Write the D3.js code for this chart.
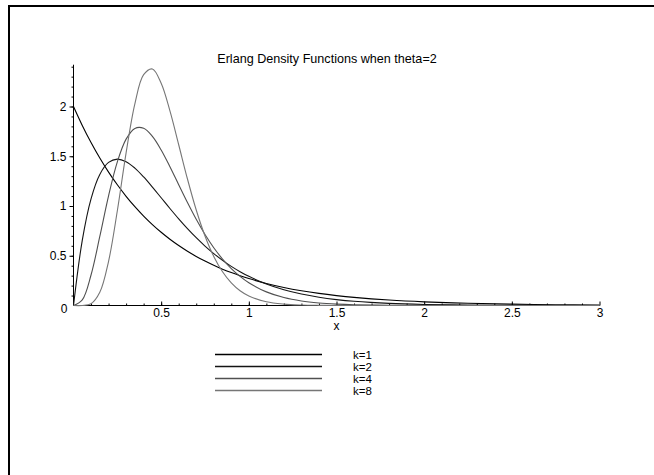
<!DOCTYPE html>
<html><head><meta charset="utf-8">
<script src="https://cdn.jsdelivr.net/npm/d3@7"></script>
<style>body{margin:0;background:#fff}svg{display:block;font-family:"Liberation Sans",Arial,sans-serif}</style>
</head><body><svg id="c" width="654" height="475"></svg>
<script>
const title = "Erlang Density Functions when theta=2";
const xLabel = "x";
const xs = [0,0.05,0.1,0.15,0.2,0.25,0.3,0.35,0.4,0.45,0.5,0.55,0.6,0.65,0.7,0.75,0.8,0.85,0.9,0.95,1.0,1.1,1.2,1.3,1.4,1.5,1.6,1.8,2.0,2.25,2.5,2.75,3.0];
const k1 = [2,1.8097,1.6375,1.4816,1.3406,1.2131,1.0976,0.9932,0.8987,0.8131,0.7358,0.6657,0.6024,0.5451,0.4932,0.4463,0.4038,0.3654,0.3306,0.2991,0.2707,0.2216,0.1814,0.1485,0.1216,0.0996,0.0815,0.0546,0.0366,0.0222,0.0135,0.0082,0.0050];
const k2 = [0,0.6550,1.0725,1.3172,1.4379,1.4715,1.4457,1.3809,1.2921,1.1902,1.0827,0.9751,0.8709,0.7724,0.6811,0.5974,0.5218,0.4539,0.3935,0.3400,0.2931,0.2161,0.1580,0.1148,0.0828,0.0595,0.0425,0.0215,0.0107,0.0044,0.0018,0.0007,0.0003];
const k4 = [0,0.0572,0.3067,0.6940,1.1026,1.4436,1.6721,1.7799,1.7809,1.6998,1.5630,1.3944,1.2135,1.0342,0.8659,0.7139,0.5808,0.4670,0.3716,0.2929,0.2290,0.1370,0.0799,0.0456,0.0256,0.0142,0.0077,0.0022,0.0006,0.0001,0,0,0];
const k8 = [0,0.0003,0.0172,0.1321,0.4446,0.9526,1.5338,2.0275,2.3199,2.3774,2.2334,1.9555,1.6157,1.2713,0.9597,0.6989,0.4934,0.3389,0.2272,0.1479,0.0959,0.0377,0.0140,0.0050,0.0017,0.0006,0.0002,0,0,0,0,0,0];
const seriesNames = ["k=1","k=2","k=4","k=8"];
const seriesData = [k1,k2,k4,k8];
const seriesColors = ["#000000","#141414","#505050","#767676"];
const xTicks = [0.5,1,1.5,2,2.5,3];
const yTicks = [0.5,1,1.5,2];
const xMinor = d3.range(1,30).map(i=>i/10);
const yMinor = d3.range(1,25).map(i=>i/10);

const FONT = "Liberation Sans, Arial, sans-serif";
const svg = d3.select("#c");
// frame
svg.append("rect").attr("x",9).attr("y",6).attr("width",700).attr("height",500)
  .attr("fill","none").attr("stroke","#000").attr("stroke-width",2);

const x = d3.scaleLinear().domain([0,3]).range([73.5,599.5]);
const y = d3.scaleLinear().domain([0,2]).range([305.5,106.5]);

// title
svg.append("text").attr("x",327).attr("y",63).attr("text-anchor","middle")
  .attr("font-size",12.6).text(title);

// x axis
const gx = svg.append("g").attr("transform",`translate(0,${y(0)})`);
gx.call(d3.axisBottom(x).tickValues(xMinor).tickSize(-2).tickFormat(""))
  .call(g=>g.select(".domain").remove());
const gx2 = svg.append("g").attr("transform",`translate(0,${y(0)})`);
gx2.call(d3.axisBottom(x).tickValues(xTicks).tickSizeInner(-4).tickSizeOuter(0).tickPadding(3).tickFormat(d3.format("")))
  .call(g=>g.select(".domain").remove());
gx2.selectAll("text").attr("font-size",12).attr("font-family",FONT).attr("fill","#000");
svg.append("line").attr("x1",x(0)).attr("x2",x(3)).attr("y1",y(0)).attr("y2",y(0)).attr("stroke","#000");
svg.append("text").attr("x",x(1.5)).attr("y",330).attr("text-anchor","middle").attr("font-size",12).text(xLabel);

// y axis
const gy = svg.append("g").attr("transform",`translate(${x(0)},0)`);
gy.call(d3.axisLeft(y).tickValues(yMinor).tickSize(2).tickFormat(""))
  .call(g=>g.select(".domain").remove());
const gy2 = svg.append("g").attr("transform",`translate(${x(0)},0)`);
gy2.call(d3.axisLeft(y).tickValues(yTicks).tickSizeInner(4).tickSizeOuter(0).tickPadding(3).tickFormat(d3.format("")))
  .call(g=>g.select(".domain").remove());
gy2.selectAll("text").attr("font-size",12).attr("font-family",FONT).attr("fill","#000");
svg.append("line").attr("x1",x(0)).attr("x2",x(0)).attr("y1",y(0)).attr("y2",y(2.42)).attr("stroke","#000");
svg.append("text").attr("x",x(0)-6).attr("y",313).attr("text-anchor","end").attr("font-size",12).text("0");

// curves
const line = d3.line().x((d,i)=>x(xs[i])).y(d=>y(d)).curve(d3.curveCatmullRom.alpha(0.5));
seriesData.forEach((s,i)=>{
  svg.append("path").attr("d",line(s)).attr("fill","none")
    .attr("stroke",seriesColors[i]).attr("stroke-width",1.1);
});

// legend
const ly = d3.scalePoint().domain(seriesNames).range([354.5,390.5]);
seriesNames.forEach((n,i)=>{
  svg.append("line").attr("x1",215).attr("x2",322).attr("y1",ly(n)).attr("y2",ly(n))
    .attr("stroke",seriesColors[i]).attr("stroke-width",1.3);
  svg.append("text").attr("x",353).attr("y",ly(n)+4).attr("font-size",11.5).text(n);
});
</script></body></html>
